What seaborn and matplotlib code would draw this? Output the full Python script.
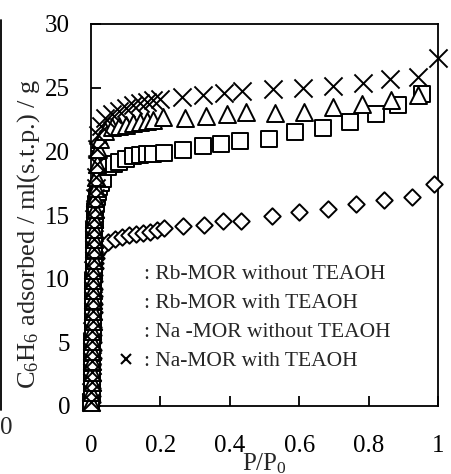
import numpy as np
import pandas as pd
import matplotlib
matplotlib.use("Agg")
import matplotlib.pyplot as plt
import seaborn as sns
from matplotlib.lines import Line2D

# Rb-MOR without TEAOH (diamonds)
rb_wo_x = [0.002, 0.002, 0.003, 0.003, 0.004, 0.004, 0.005, 0.005, 0.006, 0.006, 0.007, 0.007, 0.008, 0.008,
           0.009, 0.009, 0.010, 0.010, 0.011, 0.012, 0.013, 0.014, 0.016, 0.018, 0.022,
           0.035, 0.05, 0.07, 0.09, 0.11, 0.13, 0.15, 0.17, 0.19, 0.211, 0.264, 0.326, 0.381, 0.431,
           0.522, 0.600, 0.684, 0.764, 0.845, 0.926, 0.988]
rb_wo_y = [0.3, 0.8, 1.4, 2.0, 2.6, 3.2, 3.8, 4.4, 5.0, 5.6, 6.2, 6.8, 7.4, 8.0,
           8.6, 9.2, 9.8, 10.3, 10.8, 11.2, 11.6, 11.9, 12.1, 12.3, 12.4,
           12.6, 12.9, 13.1, 13.3, 13.4, 13.5, 13.6, 13.7, 13.8, 14.0, 14.1, 14.2, 14.5, 14.5,
           14.9, 15.2, 15.5, 15.9, 16.2, 16.4, 17.4]

# Rb-MOR with TEAOH (squares)
rb_w_x = [0.001, 0.002, 0.002, 0.003, 0.003, 0.004, 0.004, 0.005, 0.005, 0.006, 0.006, 0.007, 0.007, 0.008,
          0.008, 0.009, 0.009, 0.010, 0.011, 0.012, 0.014, 0.016, 0.019, 0.023, 0.028,
          0.035, 0.05, 0.065, 0.08, 0.10, 0.12, 0.14, 0.16, 0.18, 0.210, 0.264, 0.322, 0.375, 0.428,
          0.514, 0.588, 0.670, 0.745, 0.821, 0.886, 0.953]
rb_w_y = [0.3, 1.0, 1.8, 2.6, 3.4, 4.2, 5.0, 5.8, 6.6, 7.4, 8.2, 9.0, 9.8, 10.6,
          11.4, 12.2, 13.0, 13.8, 14.6, 15.3, 15.9, 16.4, 16.8, 17.2, 17.5,
          17.8, 18.8, 19.0, 19.2, 19.4, 19.6, 19.7, 19.8, 19.8, 19.9, 20.1, 20.4, 20.6, 20.8,
          21.0, 21.5, 21.8, 22.3, 22.9, 23.6, 24.5]

# Na-MOR without TEAOH (triangles)
na_wo_x = [0.001, 0.001, 0.002, 0.002, 0.003, 0.003, 0.004, 0.004, 0.005, 0.005, 0.006, 0.006, 0.007, 0.007,
           0.008, 0.008, 0.009, 0.009, 0.010, 0.011, 0.012, 0.013, 0.015, 0.018, 0.021, 0.025,
           0.04, 0.06, 0.08, 0.10, 0.12, 0.14, 0.16, 0.18, 0.208, 0.271, 0.331, 0.391,
           0.447, 0.531, 0.614, 0.698, 0.780, 0.864, 0.943]
na_wo_y = [0.3, 1.1, 1.9, 2.7, 3.5, 4.3, 5.1, 5.9, 6.7, 7.5, 8.3, 9.1, 9.9, 10.7,
           11.5, 12.3, 13.1, 13.9, 14.7, 15.5, 16.3, 17.1, 18.0, 19.0, 20.2, 21.0,
           21.6, 21.9, 22.0, 22.1, 22.2, 22.3, 22.4, 22.5, 22.7, 22.6, 22.8, 22.9,
           23.1, 23.0, 23.1, 23.5, 23.7, 24.0, 24.4]

# Na-MOR with TEAOH (crosses)
na_w_x = [0.001, 0.001, 0.002, 0.002, 0.003, 0.003, 0.004, 0.004, 0.005, 0.005, 0.006, 0.006, 0.007, 0.007,
          0.008, 0.008, 0.009, 0.009, 0.010, 0.011, 0.012, 0.013, 0.014, 0.016, 0.018,
          0.02, 0.03, 0.04, 0.06, 0.08, 0.10, 0.12, 0.14, 0.16, 0.18, 0.200, 0.261, 0.322,
          0.382, 0.434, 0.524, 0.612, 0.698, 0.785, 0.862, 0.943, 1.0]
na_w_y = [0.3, 1.1, 1.9, 2.7, 3.5, 4.3, 5.1, 5.9, 6.7, 7.5, 8.3, 9.1, 9.9, 10.7,
          11.5, 12.3, 13.1, 13.9, 14.7, 15.5, 16.3, 17.1, 18.0, 19.0, 20.2,
          21.3, 22.0, 22.6, 22.9, 23.2, 23.4, 23.6, 23.8, 23.9, 24.0, 24.1, 24.3, 24.4,
          24.6, 24.7, 24.9, 25.0, 25.1, 25.4, 25.7, 25.8, 27.3]

labels = [": Rb-MOR without TEAOH", ": Rb-MOR with TEAOH",
          ": Na -MOR without TEAOH", ": Na-MOR with TEAOH"]
x_ticks = [0, 0.2, 0.4, 0.6, 0.8, 1]
x_ticklabels = ["0", "0.2", "0.4", "0.6", "0.8", "1"]
y_ticks = [0, 5, 10, 15, 20, 25, 30]

sns.set_style("ticks")
plt.rcParams['font.family'] = ['Liberation Serif', 'DejaVu Serif']
plt.rcParams['mathtext.fontset'] = 'custom'
plt.rcParams['mathtext.rm'] = 'Liberation Serif'
plt.rcParams['mathtext.it'] = 'Liberation Serif:italic'

fig = plt.figure(figsize=(4.51, 4.74), dpi=100)
ax = fig.add_axes([91 / 451, 68 / 474, 347 / 451, 382 / 474])

series = [
    (rb_wo_x, rb_wo_y, 'D', 70),
    (rb_w_x, rb_w_y, 's', 140),
    (na_wo_x, na_wo_y, '^', 150),
    (na_w_x, na_w_y, 'x', 170),
]
for xs, ys, m, s in series:
    df = pd.DataFrame({'x': xs, 'y': ys})
    if m == 'x':
        sns.scatterplot(data=df, x='x', y='y', marker=m, s=s, color='black',
                        linewidth=1.4, ax=ax, clip_on=False, zorder=3)
    else:
        sns.scatterplot(data=df, x='x', y='y', marker=m, s=s, facecolor='white',
                        edgecolor='black', linewidth=1.4, ax=ax, clip_on=False, zorder=3)

ax.set_xlim(0, 1)
ax.set_ylim(0, 30)
ax.set_xticks(x_ticks)
ax.set_xticklabels(x_ticklabels)
ax.set_yticks(y_ticks)
ax.tick_params(direction='in', length=7, width=1.3, labelsize=18, colors='black')
ax.tick_params(axis='x', pad=21)
ax.tick_params(axis='y', pad=15)
for sp in ax.spines.values():
    sp.set_linewidth(1.3)
    sp.set_color('black')
ax.set_xlabel("P/P$_0$", fontsize=18, labelpad=-4)
ax.set_ylabel("C$_6$H$_6$ adsorbed / ml(s.t.p.) / g", fontsize=19)
ax.yaxis.set_label_coords(-0.142, 0.45)

handles = [Line2D([], [], linestyle='none', marker=None),
           Line2D([], [], linestyle='none', marker=None),
           Line2D([], [], linestyle='none', marker=None),
           Line2D([], [], linestyle='none', marker='x', color='black', markersize=7, markeredgewidth=1.5)]
ax.legend(handles, labels, loc='upper left', bbox_to_anchor=(0.04, 0.40), frameon=False,
          fontsize=15.5, handlelength=1.0, handletextpad=0.3, labelspacing=0.42, borderpad=0)

# fragment of the neighbouring panel at the left edge
fig.add_artist(Line2D([0.003, 0.003], [(474 - 410) / 474, (474 - 20) / 474], color='black', lw=1.3))
fig.text(0.0, (474 - 428) / 474, "0", fontsize=18, ha='left', va='center')

fig.savefig("out.png", dpi=100)
